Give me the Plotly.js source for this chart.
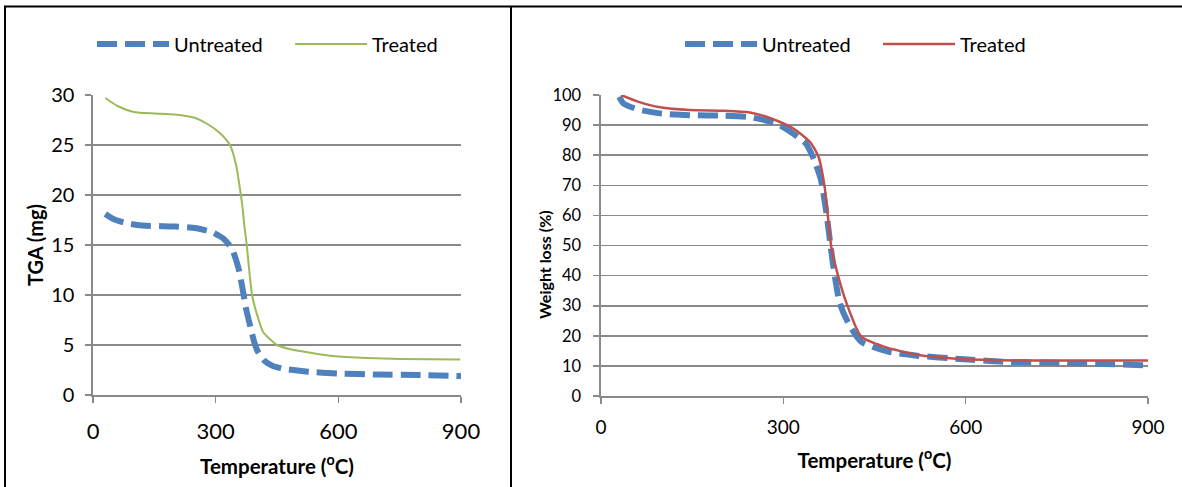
<!DOCTYPE html>
<html>
<head>
<meta charset="utf-8">
<script src="https://cdn.plot.ly/plotly-3.0.1.min.js"></script>
<style>html,body{margin:0;padding:0;background:#fff;}#chart{width:1182px;height:487px;}</style>
</head>
<body>
<div id="chart"></div>
<script>
// ---- Left chart: TGA (mg) ----
const tgaUntreatedT = [30, 50, 80, 120, 200, 250, 290, 320, 340, 355, 365, 375, 385, 395, 405, 420, 440, 470, 520, 600, 700, 800, 900];
const tgaUntreatedV = [18.1, 17.6, 17.2, 16.95, 16.85, 16.7, 16.3, 15.6, 14.6, 12.8, 10.8, 8.5, 6.8, 5.2, 4.2, 3.4, 2.9, 2.6, 2.35, 2.15, 2.05, 2.0, 1.9];
const tgaTreatedT = [30, 60, 100, 150, 200, 250, 280, 310, 335, 350, 358, 365, 370, 376, 382, 389, 400, 416, 435, 450, 480, 506, 550, 587, 670, 751, 898];
const tgaTreatedV = [29.7, 28.9, 28.3, 28.15, 28.05, 27.7, 27.1, 26.2, 25.0, 23.0, 21.0, 19.0, 17.0, 15.0, 12.5, 10.0, 8.2, 6.3, 5.5, 5.0, 4.6, 4.4, 4.1, 3.9, 3.7, 3.6, 3.55];

// ---- Right chart: Weight loss (%) ----
const wlUntreatedT = [30, 37, 61, 97, 146, 203, 245, 288, 316, 337, 351, 362, 371, 378, 385, 393, 407, 428, 471, 520, 591, 661, 767, 900];
const wlUntreatedV = [99.4, 97.2, 95.2, 93.9, 93.3, 93.1, 92.6, 90.6, 87.2, 83.9, 78.3, 71.7, 60.6, 49.4, 39.4, 30.8, 24.2, 18.1, 14.8, 13.4, 12.3, 11.4, 11.0, 10.2];
const wlTreatedT = [33, 61, 97, 146, 203, 245, 280, 316, 344, 358, 368, 379, 390, 404, 428, 464, 520, 591, 697, 900];
const wlTreatedV = [100, 97.8, 95.9, 95.0, 94.8, 94.2, 92.2, 88.9, 84.4, 79.4, 69.4, 49.4, 40.0, 30.8, 19.8, 16.5, 13.7, 12.3, 11.8, 11.8];

const seriesNames = ["Untreated", "Treated"];
const xTicks = [0, 300, 600, 900];
const xTitle = "Temperature (<sup>o</sup>C)";
const yTitleLeft = "TGA (mg)";
const yTitleRight = "Weight loss (%)";

const W = 1182, H = 487;
const FONT = "Lato, Carlito, Calibri, 'Open Sans', sans-serif";
const GRID = "#8a8a8a";
const BLUE = "#4F81BD", GREEN = "#9BBB59", RED = "#C0504D";
const px = v => v / W, py = v => 1 - v / H;
const DASH = "20px,8px";

const traces = [
  {x: tgaUntreatedT, y: tgaUntreatedV, name: seriesNames[0], type: "scatter", mode: "lines",
   line: {color: BLUE, width: 6, dash: DASH, shape: "spline", smoothing: 0.6}, xaxis: "x", yaxis: "y", legend: "legend"},
  {x: tgaTreatedT, y: tgaTreatedV, name: seriesNames[1], type: "scatter", mode: "lines",
   line: {color: GREEN, width: 2, shape: "spline", smoothing: 0.6}, xaxis: "x", yaxis: "y", legend: "legend"},
  {x: wlUntreatedT, y: wlUntreatedV, name: seriesNames[0], type: "scatter", mode: "lines",
   line: {color: BLUE, width: 6, dash: DASH, shape: "spline", smoothing: 0.6}, xaxis: "x2", yaxis: "y2", legend: "legend2"},
  {x: wlTreatedT, y: wlTreatedV, name: seriesNames[1], type: "scatter", mode: "lines",
   line: {color: RED, width: 2.5, shape: "spline", smoothing: 0.6}, xaxis: "x2", yaxis: "y2", legend: "legend2"}
];

const axBase = {
  showline: true, linecolor: GRID, linewidth: 1.6,
  showgrid: true, gridcolor: GRID, gridwidth: 1.6,
  zeroline: false, ticks: "outside", ticklen: 6, tickcolor: GRID, tickwidth: 1.6,
  automargin: false, fixedrange: true
};

const legBase = {
  orientation: "h", xanchor: "left", y: py(44), yanchor: "middle",
  bgcolor: "rgba(0,0,0,0)", font: {size: 20}, entrywidth: 111, entrywidthmode: "pixels",
  itemwidth: 72
};

const layout = {
  width: W, height: H,
  margin: {l: 0, r: 0, t: 0, b: 0},
  paper_bgcolor: "#fff", plot_bgcolor: "#fff",
  font: {family: FONT, color: "#000"},
  showlegend: true,
  xaxis: Object.assign({}, axBase, {
    domain: [px(93), px(461)], range: [0, 900], tickvals: xTicks, showgrid: false,
    tickfont: {size: 22}, ticklabelstandoff: 10, anchor: "y",
    title: {text: xTitle, font: {size: 20.5, weight: "bold"}, standoff: 16}
  }),
  yaxis: Object.assign({}, axBase, {
    domain: [py(395), py(95)], range: [0, 30], dtick: 5, anchor: "x",
    tickfont: {size: 20}, ticklabelstandoff: 7,
    title: {text: yTitleLeft, font: {size: 20, weight: "bold"}, standoff: 2}
  }),
  xaxis2: Object.assign({}, axBase, {
    domain: [px(601), px(1148)], range: [0, 900], tickvals: xTicks, showgrid: false,
    tickfont: {size: 19}, ticklabelstandoff: 8, anchor: "y2",
    title: {text: xTitle, font: {size: 20.5, weight: "bold"}, standoff: 16}
  }),
  yaxis2: Object.assign({}, axBase, {
    domain: [py(396), py(95)], range: [0, 100], dtick: 10, anchor: "x2",
    tickfont: {size: 16.5}, ticklabelstandoff: 9
  }),
  annotations: [
    {text: yTitleRight, xref: "paper", yref: "paper", x: px(544), y: py(265),
     xanchor: "center", yanchor: "middle", textangle: -90, showarrow: false,
     font: {size: 16, weight: "bold", family: FONT, color: "#000"}}
  ],
  legend: Object.assign({}, legBase, {x: px(92)}),
  legend2: Object.assign({}, legBase, {x: px(680)}),
  shapes: [
    {type: "line", xref: "paper", yref: "paper", x0: px(5), x1: px(5), y0: 0, y1: py(6), line: {color: "#000", width: 2}},
    {type: "line", xref: "paper", yref: "paper", x0: px(511), x1: px(511), y0: 0, y1: py(6), line: {color: "#000", width: 2}},
    {type: "line", xref: "paper", yref: "paper", x0: px(4), x1: 1, y0: py(6.5), y1: py(6.5), line: {color: "#000", width: 2}}
  ]
};

Plotly.newPlot("chart", traces, layout, {displayModeBar: false, staticPlot: true});
</script>
</body>
</html>
